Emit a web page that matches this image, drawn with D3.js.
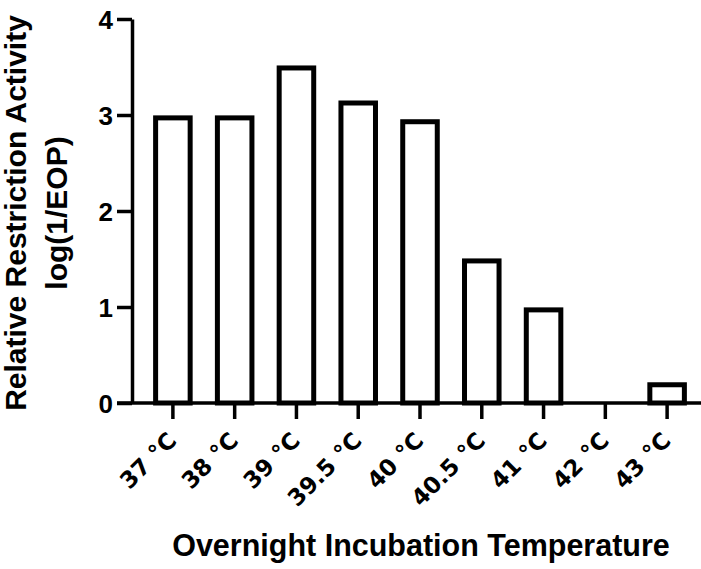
<!DOCTYPE html>
<html>
<head>
<meta charset="utf-8">
<script src="https://cdn.jsdelivr.net/npm/d3@7"></script>
<style>
  body { margin: 0; background: #fff; }
  svg { display: block; }
  text { font-family: "Liberation Sans", Arial, Helvetica, sans-serif; font-weight: bold; fill: #000; }
</style>
</head>
<body>
<svg id="chart" width="701" height="569"></svg>
<script>
const categories = ["37 °C", "38 °C", "39 °C", "39.5 °C", "40 °C", "40.5 °C", "41 °C", "42 °C", "43 °C"];
const values = [2.97, 2.97, 3.49, 3.125, 2.93, 1.48, 0.97, 0, 0.19];
const yTicks = [0, 1, 2, 3, 4];
const yTitle = ["Relative Restriction Activity", "log(1/EOP)"];
const xTitle = "Overnight Incubation Temperature";

const svg = d3.select("#chart");
const axisX0 = 132, axisY0 = 403;

const x = d3.scaleBand().domain(categories).range([142, 698]).paddingInner(0.36).paddingOuter(0.18);
const y = d3.scaleLinear().domain([0, 4]).range([axisY0, 19]);

const sw = 5;
// bars
svg.append("g").selectAll("rect")
  .data(categories.map((c, i) => ({c, v: values[i]})).filter(d => d.v > 0))
  .join("rect")
  .attr("x", d => x(d.c) + sw / 2)
  .attr("width", x.bandwidth() - sw)
  .attr("y", d => y(d.v))
  .attr("height", d => y(0) - y(d.v))
  .attr("fill", "#fff")
  .attr("stroke", "#000")
  .attr("stroke-width", sw);

// y axis
const gy = svg.append("g").attr("transform", `translate(${axisX0},0)`)
  .call(d3.axisLeft(y).tickValues(yTicks).tickFormat(d3.format("d")).tickSize(15).tickSizeOuter(0).tickPadding(4));
gy.select(".domain").attr("stroke", "#000").attr("stroke-width", 3.5);
gy.selectAll(".tick line").attr("stroke", "#000").attr("stroke-width", 3.5);
gy.selectAll(".tick text").style("font-size", "26px").attr("dy", "0.36em");

// x axis
const gx = svg.append("g").attr("transform", `translate(0,${axisY0})`)
  .call(d3.axisBottom(x).tickSize(16).tickSizeOuter(0));
gx.select(".domain").remove();
gx.selectAll(".tick line").attr("stroke", "#000").attr("stroke-width", 3.5);
gx.selectAll(".tick text")
  .style("font-family", "'DejaVu Sans', sans-serif")
  .style("font-size", "23px")
  .attr("text-anchor", "end")
  .attr("dy", 0)
  .attr("y", 0)
  .attr("transform", "translate(5,39) rotate(-45)");
svg.append("line")
  .attr("x1", axisX0 - 15).attr("x2", 701)
  .attr("y1", axisY0).attr("y2", axisY0)
  .attr("stroke", "#000").attr("stroke-width", 3.5);

// y title
const yt = svg.append("text")
  .attr("transform", "translate(0,213) rotate(-90)")
  .attr("text-anchor", "middle")
  .style("font-size", "30px");
yt.append("tspan").attr("x", 0).attr("y", 26).text(yTitle[0]);
yt.append("tspan").attr("x", 0).attr("y", 67).text(yTitle[1]);

// x title
svg.append("text")
  .attr("x", 421).attr("y", 556)
  .attr("text-anchor", "middle")
  .style("font-size", "30.5px")
  .text(xTitle);
</script>
</body>
</html>
